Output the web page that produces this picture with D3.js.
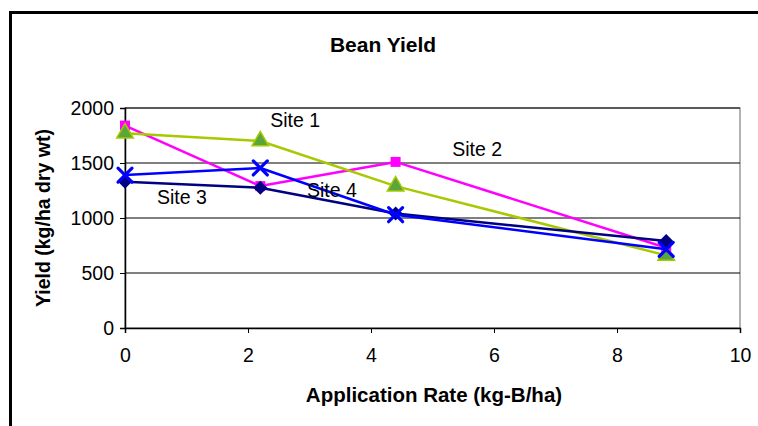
<!DOCTYPE html>
<html>
<head>
<meta charset="utf-8">
<script src="https://cdn.jsdelivr.net/npm/d3@7"></script>
<style>
  html, body { margin: 0; padding: 0; background: #fff; }
  svg { display: block; font-family: Arial, "Liberation Sans", sans-serif; }
</style>
</head>
<body>
<svg id="chart" width="758" height="426"></svg>
<script>
// Application rates (kg-B/ha)
const rates = [0, 2.2, 4.4, 8.8];

// Bean yield per site (kg/ha dry wt)
const site1 = [1770, 1700, 1290, 660];
const site2 = [1840, 1290, 1510, 730];
const site3 = [1330, 1275, 1040, 790];
const site4 = [1390, 1455, 1030, 715];

const xTicks = [0, 2, 4, 6, 8, 10];
const yTicks = [0, 500, 1000, 1500, 2000];

const seriesNames = ["Site 1", "Site 2", "Site 3", "Site 4"];

const svg = d3.select("#chart");
const W = 758, H = 426;
const plot = { left: 125, right: 740, top: 108, bottom: 328 };

const x = d3.scaleLinear().domain([0, 10]).range([plot.left, plot.right]);
const y = d3.scaleLinear().domain([0, 2000]).range([plot.bottom, plot.top]);

// outer chart frame (runs off the right and bottom edges)
svg.append("rect")
  .attr("x", 10.5).attr("y", 12.5)
  .attr("width", W + 20).attr("height", H + 20)
  .attr("fill", "#fff").attr("stroke", "#000").attr("stroke-width", 3);

// plot area border
svg.append("rect")
  .attr("x", plot.left).attr("y", plot.top)
  .attr("width", plot.right - plot.left).attr("height", plot.bottom - plot.top)
  .attr("fill", "#fff").attr("stroke", "#808080").attr("stroke-width", 1.2);

// horizontal gridlines
svg.append("g").selectAll("line")
  .data(yTicks.filter(d => d > 0))
  .join("line")
  .attr("x1", plot.left).attr("x2", plot.right)
  .attr("y1", d => y(d)).attr("y2", d => y(d))
  .attr("stroke", "#000").attr("stroke-width", 1);

// axes
const xAxis = svg.append("g")
  .attr("transform", `translate(0,${plot.bottom})`)
  .call(d3.axisBottom(x).tickValues(xTicks).tickSize(5).tickPadding(15).tickFormat(d3.format("d")));
const yAxis = svg.append("g")
  .attr("transform", `translate(${plot.left},0)`)
  .call(d3.axisLeft(y).tickValues(yTicks).tickSize(5).tickPadding(6).tickFormat(d3.format("d")));

[xAxis, yAxis].forEach(g => {
  g.select(".domain").attr("stroke", "#000").attr("stroke-width", 1.5);
  g.selectAll(".tick line").attr("stroke", "#000").attr("stroke-width", 1);
  g.selectAll(".tick text")
    .attr("fill", "#000")
    .style("font-size", "19.5px")
    .style("font-family", "Arial, 'Liberation Sans', sans-serif");
});

// series styles
const styles = {
  "Site 1": { color: "#a8c800", marker: "triangle", fill: "#5aa63c" },
  "Site 2": { color: "#ff00ff", marker: "square", fill: "#ff00ff" },
  "Site 3": { color: "#000080", marker: "diamond", fill: "#000080" },
  "Site 4": { color: "#0000ff", marker: "x", fill: "#0000ff" }
};
const values = { "Site 1": site1, "Site 2": site2, "Site 3": site3, "Site 4": site4 };

const line = d3.line().x(d => x(d[0])).y(d => y(d[1]));
const drawOrder = ["Site 2", "Site 1", "Site 3", "Site 4"];

drawOrder.forEach(name => {
  const st = styles[name];
  const pts = rates.map((r, i) => [r, values[name][i]]);
  const g = svg.append("g");
  g.append("path")
    .attr("d", line(pts))
    .attr("fill", "none")
    .attr("stroke", st.color)
    .attr("stroke-width", 2.5)
    .attr("stroke-linejoin", "round");

  const m = g.selectAll("g.m").data(pts).join("g")
    .attr("transform", d => `translate(${x(d[0])},${y(d[1])})`);
  if (st.marker === "triangle") {
    m.append("path").attr("d", d3.symbol(d3.symbolTriangle, 120)())
      .attr("fill", st.fill).attr("stroke", st.color).attr("stroke-width", 1.5);
  } else if (st.marker === "square") {
    m.append("rect").attr("x", -5).attr("y", -5).attr("width", 10).attr("height", 10)
      .attr("fill", st.fill);
  } else if (st.marker === "diamond") {
    m.append("path").attr("d", "M0,-7L7,0L0,7L-7,0Z").attr("fill", st.fill);
  } else {
    m.append("path").attr("d", "M-7,-7L7,7M-7,7L7,-7")
      .attr("stroke", st.fill).attr("stroke-width", 3.2).attr("stroke-linecap", "round");
  }
});

// series labels, placed in data space
const labelPos = [[2.36, 1830], [5.32, 1565], [0.52, 1130], [2.96, 1195]];
svg.append("g").selectAll("text")
  .data(seriesNames)
  .join("text")
  .attr("x", (d, i) => x(labelPos[i][0]))
  .attr("y", (d, i) => y(labelPos[i][1]))
  .attr("fill", "#000")
  .style("font-size", "19.5px")
  .text(d => d);

// title and axis titles
svg.append("text")
  .attr("x", 383).attr("y", 52)
  .attr("text-anchor", "middle")
  .style("font-size", "21px").style("font-weight", "bold")
  .text("Bean Yield");

svg.append("text")
  .attr("x", 434).attr("y", 402)
  .attr("text-anchor", "middle")
  .style("font-size", "20.5px").style("font-weight", "bold")
  .text("Application Rate (kg-B/ha)");

svg.append("text")
  .attr("transform", "translate(50,218) rotate(-90)")
  .attr("text-anchor", "middle")
  .style("font-size", "19.5px").style("font-weight", "bold")
  .text("Yield (kg/ha dry wt)");
</script>
</body>
</html>
